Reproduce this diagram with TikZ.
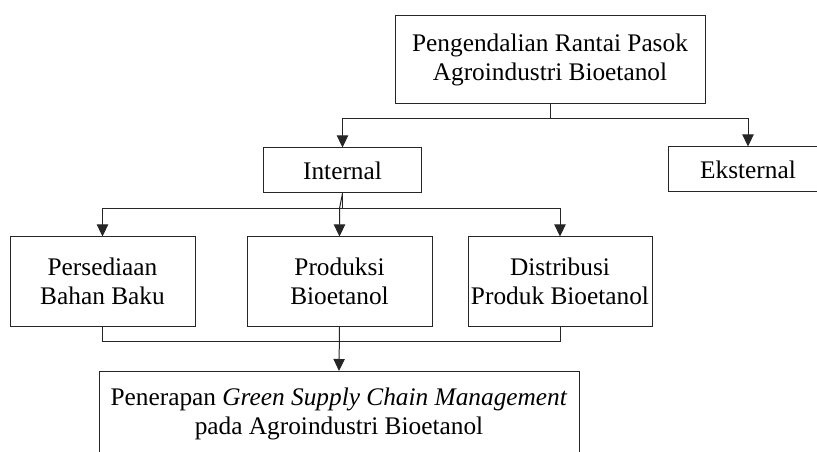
\documentclass[tikz,border=0pt]{standalone}
\usepackage{fontspec}
\setmainfont{Liberation Serif}
\usetikzlibrary{arrows.meta,calc}

\begin{document}
\begin{tikzpicture}[x=0.75pt,y=0.75pt,yscale=-1,xscale=1,
    blok/.style={draw=black!85,line width=0.75pt,align=center,inner sep=0pt,
        font=\fontsize{19}{22}\selectfont},
    panah/.style={draw=black!85,line width=0.75pt,-{Triangle[length=9pt,width=8.5pt]}},
    garis/.style={draw=black!85,line width=0.75pt}]
    \useasboundingbox (0,0) rectangle (817,452);
    \clip (0,0) rectangle (817,452);

    % Boxes
    \node [blok,minimum width=232.5pt,minimum height=66pt] (utama) at (550,60) {Pengendalian Rantai Pasok\\Agroindustri Bioetanol};
    \node [blok,minimum width=119pt,minimum height=33.75pt] (internal) at (342.5,170.5) {Internal};
    \node [blok,minimum width=120pt,minimum height=33.75pt] (eksternal) at (748,169.5) {Eksternal};
    \node [blok,minimum width=138.75pt,minimum height=66.75pt] (bahan) at (102.5,281.5) {Persediaan\\Bahan Baku};
    \node [blok,minimum width=138.75pt,minimum height=66.75pt] (produksi) at (339.5,281.5) {Produksi\\Bioetanol};
    \node [blok,minimum width=138pt,minimum height=66.75pt] (distribusi) at (560,281.5) {Distribusi\\Produk Bioetanol};
    \node [blok,anchor=north,minimum width=360pt,inner ysep=12pt] (gscm) at (339,371) {Penerapan \textit{Green Supply Chain Management}\\pada Agroindustri Bioetanol\rule[-20pt]{0pt}{1pt}};

    % Bars
    \coordinate (atas) at ($(utama.south)+(0,14)$);
    \coordinate (tengah) at ($(internal.south)+(0,15)$);
    \coordinate (bawah) at ($(produksi.south)+(0,15)$);

    % Connectors
    \draw [panah] (utama.south) -- (atas) -| (internal.north);
    \draw [panah] (utama.south) -- (atas) -| (eksternal.north);
    \draw [panah] (internal.south) -- (tengah) -| (bahan.north);
    \draw [panah] (internal.south) -- (tengah) -| (distribusi.north);
    \draw [panah] (internal.south) -- (tengah -| produksi.north) -- (produksi.north);
    \draw [garis] (bahan.south) |- (bawah) -| (distribusi.south);
    \draw [panah] (produksi.south) -- (gscm.north);

\end{tikzpicture}
\end{document}
